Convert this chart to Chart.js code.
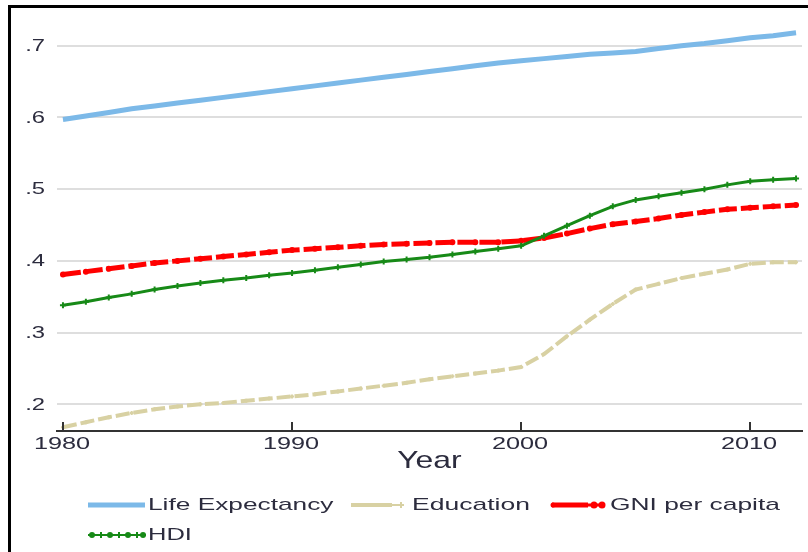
<!DOCTYPE html>
<html>
<head>
<meta charset="utf-8">
<script src="https://cdn.jsdelivr.net/npm/chart.js@4.4.1/dist/chart.umd.min.js"></script>
<style>
  html, body { margin: 0; padding: 0; background: #fff; }
  canvas { display: block; }
</style>
</head>
<body>
<canvas id="myChart" width="808" height="552"></canvas>
<script>
/* data */
const years = [1980,1981,1982,1983,1984,1985,1986,1987,1988,1989,1990,1991,1992,1993,1994,1995,1996,
  1997,1998,1999,2000,2001,2002,2003,2004,2005,2006,2007,2008,2009,2010,2011,2012];
const lifeExp = [.597,.602,.607,.612,.616,.620,.624,.628,.632,.636,.640,.644,.648,.652,.656,.660,.664,
  .668,.672,.676,.679,.682,.685,.688,.690,.692,.696,.700,.703,.707,.711,.714,.718];
const education = [.168,.175,.182,.188,.193,.197,.200,.202,.205,.208,.211,.214,.218,.222,.226,.230,.235,
  .239,.243,.247,.252,.270,.295,.318,.340,.360,.368,.376,.382,.388,.396,.398,.398];
const gni = [.381,.385,.389,.393,.397,.400,.403,.406,.409,.412,.415,.417,.419,.421,.423,.424,.425,
  .426,.426,.426,.428,.432,.438,.445,.451,.455,.459,.464,.468,.472,.474,.476,.478];
const hdi = [.338,.343,.349,.354,.360,.365,.369,.373,.376,.380,.383,.387,.391,.395,.399,.402,.405,
  .409,.413,.417,.421,.435,.449,.463,.476,.485,.490,.495,.500,.506,.511,.513,.515];
const xTicks = [1980, 1990, 2000, 2010];
const yTicks = [.2, .3, .4, .5, .6, .7];

const FONT = '"Liberation Sans", Arial, sans-serif';
const TXT = '#2c2c3e';

function pts(arr){
  return arr.map((v, i) => ({x: years[i], y: v}));
}

const series = [
  {label: 'Life Expectancy', data: lifeExp, color: '#7cb9e8', width: 5, dash: [], style: false, r: 0, order: 3},
  {label: 'Education', data: education, color: '#d8d1a3', width: 4, dash: [14, 4], style: 'cross', r: 2, order: 2},
  {label: 'GNI per capita', data: gni, color: '#ff0000', width: 5, dash: [18, 4], style: 'circle', r: 2, order: 1},
  {label: 'HDI', data: hdi, color: '#178a17', width: 3, dash: [], style: 'cross', r: 3, order: 0}
];

// the picture's text is stretched sideways, so draw it scaled
function txt(c, s, x, y, size, sx, align){
  c.save();
  c.translate(x, y);
  c.scale(sx, 1);
  c.font = size + 'px ' + FONT;
  c.fillStyle = TXT;
  c.textAlign = align;
  c.textBaseline = 'middle';
  c.fillText(s, 0, 0);
  c.restore();
}

function cross(c, x, y){
  c.beginPath();
  c.moveTo(x - 3, y); c.lineTo(x + 3, y);
  c.moveTo(x, y - 3); c.lineTo(x, y + 3);
  c.stroke();
}

function dot(c, x, y, r){
  c.beginPath();
  c.arc(x, y, r, 0, Math.PI * 2);
  c.fill();
}

const extras = {
  id: 'extras',
  beforeDraw: chart => {
    const c = chart.ctx;
    c.save();
    c.fillStyle = '#fff';
    c.fillRect(0, 0, chart.width, chart.height);
    c.restore();
  },
  afterDraw: chart => {
    const c = chart.ctx;
    const xs = chart.scales.x;
    const ys = chart.scales.y;
    const bottom = chart.chartArea.bottom;
    c.save();
    // frame
    c.fillStyle = '#000';
    c.fillRect(8, 5, chart.width - 8, 3);
    c.fillRect(8, 5, 3, chart.height - 5);
    // inward tick marks + labels
    c.strokeStyle = '#333';
    c.lineWidth = 2;
    xTicks.forEach(t => {
      const x = Math.round(xs.getPixelForValue(t));
      c.beginPath();
      c.moveTo(x, bottom);
      c.lineTo(x, bottom - 9);
      c.stroke();
      txt(c, String(t), x - 1, 445, 16, 1.58, 'center');
    });
    yTicks.forEach(t => {
      txt(c, t.toFixed(1).replace(/^0/, ''), 45, ys.getPixelForValue(t) + 0.5, 17, 1.4, 'right');
    });
    // axis title
    txt(c, 'Year', (chart.chartArea.left + chart.chartArea.right) / 2, 461, 24, 1.33, 'center');

    // legend
    const [le, ed, gn, hd] = series;
    c.lineCap = 'butt';
    // Life Expectancy
    c.strokeStyle = le.color; c.lineWidth = 5;
    c.beginPath(); c.moveTo(88, 505); c.lineTo(145, 505); c.stroke();
    txt(c, le.label, 148, 505, 17, 1.545, 'left');
    // Education
    c.strokeStyle = ed.color; c.lineWidth = 4;
    c.beginPath(); c.moveTo(351, 505); c.lineTo(392, 505); c.stroke();
    c.lineWidth = 2;
    c.beginPath(); c.moveTo(392, 505); c.lineTo(404, 505); c.stroke();
    cross(c, 401, 505);
    txt(c, ed.label, 412, 505, 17, 1.56, 'left');
    // GNI per capita
    c.strokeStyle = gn.color; c.fillStyle = gn.color; c.lineWidth = 5;
    c.beginPath(); c.moveTo(552, 505); c.lineTo(588, 505); c.stroke();
    c.lineWidth = 3;
    c.beginPath(); c.moveTo(588, 505); c.lineTo(605, 505); c.stroke();
    dot(c, 553, 505, 2.5);
    dot(c, 594, 505, 3.5);
    dot(c, 602, 505, 3.5);
    txt(c, gn.label, 610, 505, 17, 1.55, 'left');
    // HDI
    c.strokeStyle = hd.color; c.fillStyle = hd.color; c.lineWidth = 2;
    c.beginPath(); c.moveTo(88, 535); c.lineTo(146, 535); c.stroke();
    [92, 110, 128, 143].forEach(x => dot(c, x, 535, 3));
    [101, 119, 137].forEach(x => cross(c, x, 535));
    txt(c, hd.label, 148, 535, 17, 1.5, 'left');
    c.restore();
  }
};

const ctx = document.getElementById('myChart');
const myChart = new Chart(ctx, {
  type: 'line',
  plugins: [extras],
  data: {
    datasets: series.map(s => ({
      label: s.label,
      data: pts(s.data),
      borderColor: s.color,
      backgroundColor: s.color,
      borderWidth: s.width,
      borderDash: s.dash,
      pointStyle: s.style,
      pointRadius: s.r,
      pointBorderWidth: 2,
      tension: 0,
      fill: false,
      order: s.order
    }))
  },
  options: {
    responsive: false,
    animation: false,
    devicePixelRatio: 1,
    events: [],
    layout: { padding: { left: 0, right: 3, top: 10, bottom: 0 } },
    plugins: { legend: { display: false }, tooltip: { enabled: false } },
    scales: {
      x: {
        type: 'linear',
        min: 1979.74,
        max: 2012.26,
        afterBuildTicks: axis => { axis.ticks = xTicks.map(v => ({value: v})); },
        afterFit: axis => {
          axis.height = 121;
          axis.paddingLeft = 0; axis.paddingRight = 0;
        },
        grid: { display: false, drawTicks: false },
        border: { display: true, color: '#333', width: 2 },
        ticks: { display: false }
      },
      y: {
        min: 0.1628,
        max: 0.7498,
        afterBuildTicks: axis => { axis.ticks = yTicks.map(v => ({value: v})); },
        afterFit: axis => {
          axis.width = 57;
          axis.paddingTop = 0; axis.paddingBottom = 0;
        },
        grid: { color: '#dedede', lineWidth: 2, drawTicks: false },
        border: { display: false },
        ticks: { display: false }
      }
    }
  }
});
</script>
</body>
</html>
